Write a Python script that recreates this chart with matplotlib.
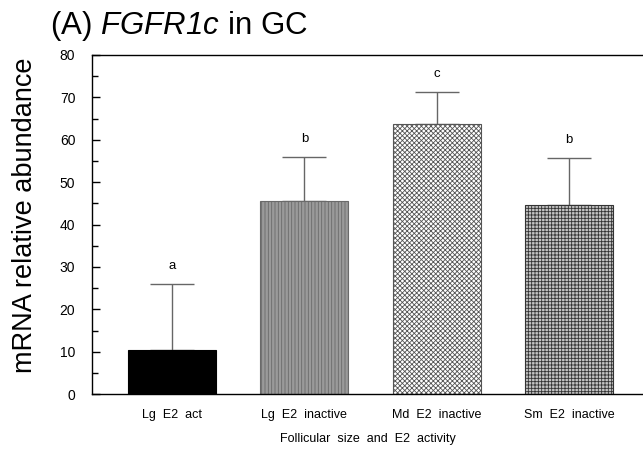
import matplotlib
matplotlib.use("Agg")
import matplotlib.pyplot as plt
from matplotlib.ticker import MultipleLocator

# data
groups = ["Lg  E2  act", "Lg  E2  inactive", "Md  E2  inactive", "Sm  E2  inactive"]
means = [10.4, 45.5, 63.8, 44.6]
sem = [15.6, 10.4, 7.5, 11.1]
letters = ["a", "b", "c", "b"]

plt.rcParams['font.family'] = ['Liberation Sans', 'DejaVu Sans']
plt.rcParams['mathtext.fontset'] = 'custom'
plt.rcParams['mathtext.it'] = 'Liberation Sans:italic'
plt.rcParams['mathtext.rm'] = 'Liberation Sans:italic'
plt.rcParams['hatch.linewidth'] = 0.6

fig = plt.figure(figsize=(6.43, 4.5), dpi=100)
ax = fig.add_axes([0.143, 0.124, 0.857, 0.754])

x = list(range(len(groups)))
faces = ['black', '#9a9a9a', 'white', '#c4c4c4']
hatches = [None, '|' * 5, 'x' * 7, '+' * 5]
hcolors = ['black', '#6a6a6a', '#555555', '#333333']

# error bars behind the bars so only the upper half shows
ax.errorbar(x, means, yerr=[[0] * 4, sem], fmt='none', ecolor='#666666',
            elinewidth=1.0, capsize=16, capthick=1.0, zorder=1)

for xi, m, fc, h, hc in zip(x, means, faces, hatches, hcolors):
    ax.bar(xi, m, width=0.665, color=fc, edgecolor=hc, linewidth=0.8,
           hatch=h, zorder=2)

for xi, m, e, lab in zip(x, means, sem, letters):
    ax.text(xi, m + e + 4.3, lab, ha='center', va='center', fontsize=9.5)

ax.set_xlim(-0.605, 3.56)
ax.set_ylim(0, 80)
ax.yaxis.set_major_locator(MultipleLocator(10))
ax.yaxis.set_minor_locator(MultipleLocator(5))
ax.tick_params(axis='y', which='major', direction='in', length=5.5, width=1,
               pad=12, labelsize=10)
ax.tick_params(axis='y', which='minor', direction='in', length=4.5, width=1)
ax.set_xticks(x)
ax.set_xticklabels(groups)
ax.tick_params(axis='x', length=0, pad=11, labelsize=9)

ax.spines['right'].set_visible(False)
for s in ['left', 'top', 'bottom']:
    ax.spines[s].set_linewidth(1.0)

ax.set_xlabel("Follicular  size  and  E2  activity", fontsize=9, labelpad=8)
ax.set_ylabel("mRNA relative abundance", fontsize=19.5)
ax.yaxis.set_label_coords(-0.097, 0.528)
fig.text(0.078, 0.943, r"(A) $\mathrm{FGFR1c}$ in GC", fontsize=22.5,
         ha='left', va='center')

fig.savefig("out.png", dpi=100)
